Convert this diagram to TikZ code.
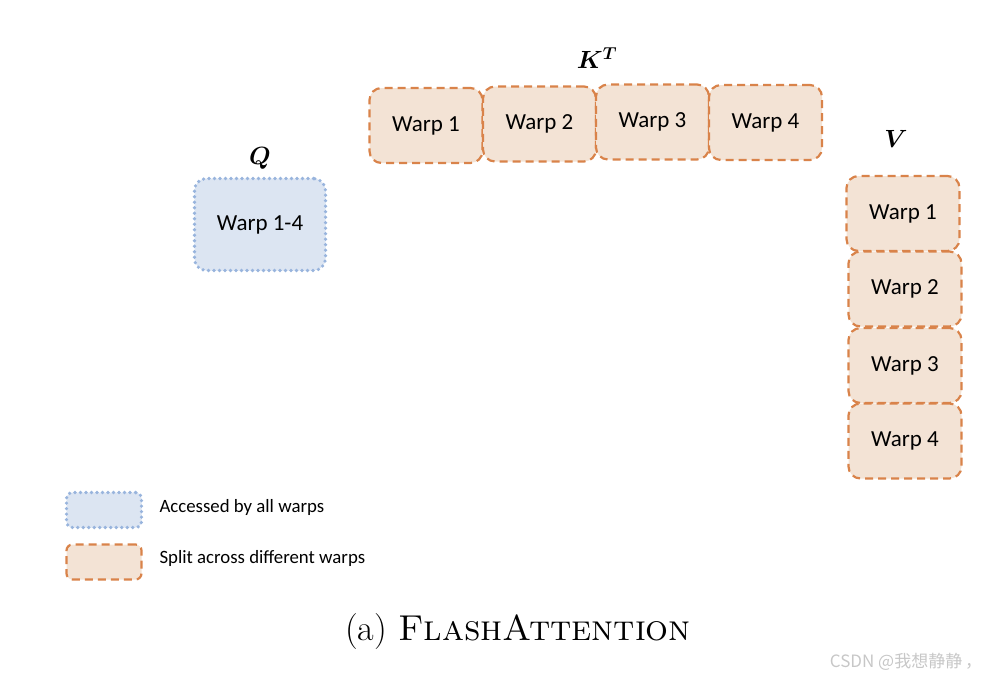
\documentclass[tikz,border=0pt]{standalone}
\usepackage{fontspec}
\usepackage{bm}
\newfontfamily\warpfont{Carlito}
\newfontfamily\cjkfont{Noto Sans CJK SC}
\usetikzlibrary{positioning}

\definecolor{splitfill}{HTML}{F3E3D5}
\definecolor{splitdraw}{HTML}{D9834A}
\definecolor{sharedfill}{HTML}{DCE5F2}
\definecolor{shareddraw}{HTML}{98B4DD}

\begin{document}
\begin{tikzpicture}[x=1pt,y=-1pt,
        warpbox/.style={rounded corners=12pt, inner sep=0pt,
            minimum width=113pt, minimum height=75pt,
            font=\warpfont\fontsize{23}{27}\selectfont},
        split/.style={warpbox, fill=splitfill, draw=splitdraw,
            line width=2.2pt, dash pattern=on 8pt off 5pt},
        shared/.style={warpbox, fill=sharedfill, draw=shareddraw,
            line width=3.6pt, line cap=round, dash pattern=on 0pt off 5.5pt},
        matlabel/.style={font=\fontsize{23}{27}\selectfont},
        legendtext/.style={anchor=west, font=\warpfont\fontsize{18.8}{23}\selectfont}]
    \useasboundingbox (0,0) rectangle (998,680);

    % Q
    \node[shared, minimum width=131pt, minimum height=92pt] (q) at (260,224.5) {Warp 1-4};
    \node[matlabel] (qlabel) at (260,158) {$\bm{Q}$};

    % K^T
    \node[split] (k1) at (426,125.5) {Warp 1};
    \node[split] (k2) at (539.5,124) {Warp 2};
    \node[split] (k3) at (652.5,122) {Warp 3};
    \node[split] (k4) at (765.5,122.5) {Warp 4};
    \node[matlabel] (klabel) at (597,58) {$\bm{K^T}$};

    % V
    \node[split] (v1) at (903,213.5) {Warp 1};
    \node[split] (v2) at (905,289) {Warp 2};
    \node[split] (v3) at (905,365.5) {Warp 3};
    \node[split] (v4) at (905,441) {Warp 4};
    \node[matlabel] (vlabel) at (896,139) {$\bm{V}$};

    % legend
    \node[shared, minimum width=75pt, minimum height=35pt, rounded corners=6pt] (legshared) at (104,510) {};
    \node[legendtext] (legsharedtext) at (156,507) {Accessed by all warps};
    \node[split, minimum width=75pt, minimum height=35pt, rounded corners=6pt] (legsplit) at (104,562) {};
    \node[legendtext] (legsplittext) at (156,558) {Split across different warps};

    % caption
    \node[font=\fontsize{36}{42}\selectfont] (caption) at (518,632) {(a) \textsc{FlashAttention}};
    \node[font=\cjkfont\fontsize{17}{20}\selectfont, text=black!22] (mark) at (906,662) {CSDN @我想静静\,，};
\end{tikzpicture}
\end{document}
